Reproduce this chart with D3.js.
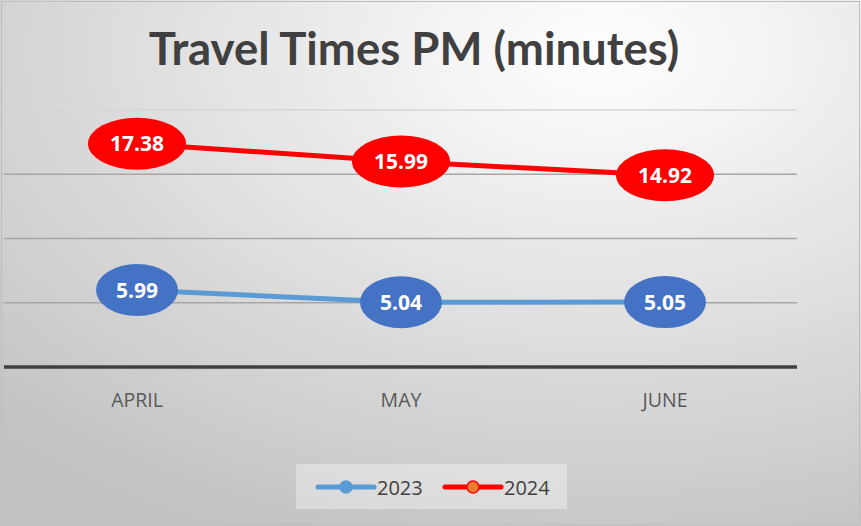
<!DOCTYPE html>
<html>
<head>
<meta charset="utf-8">
<script src="https://cdn.jsdelivr.net/npm/d3@7"></script>
<style>
  html, body { margin: 0; padding: 0; background: #fff; }
  svg { display: block; }
</style>
</head>
<body>
<svg id="chart" width="861" height="526"></svg>
<script>
// chart data
const months = ['APRIL', 'MAY', 'JUNE'];
const values2023 = [5.99, 5.04, 5.05];
const values2024 = [17.38, 15.99, 14.92];
const yTicks = [0, 5, 10, 15, 20];
const seriesNames = ['2023', '2024'];

const W = 861, H = 526;
const svg = d3.select('#chart');

// background gradient
const defs = svg.append('defs');
const grad = defs.append('radialGradient')
    .attr('id', 'bg')
    .attr('cx', '70%').attr('cy', '10%').attr('r', '100%')
    .attr('gradientUnits', 'objectBoundingBox');
grad.append('stop').attr('offset', '0%').attr('stop-color', '#ffffff');
grad.append('stop').attr('offset', '100%').attr('stop-color', '#c2c2c2');

svg.append('rect')
    .attr('x', 0).attr('y', 0).attr('width', W).attr('height', H)
    .attr('fill', 'url(#bg)');
svg.append('rect')
    .attr('x', 1.5).attr('y', 1.5).attr('width', W - 3).attr('height', H - 3)
    .attr('fill', 'none').attr('stroke', '#bdbdbd').attr('stroke-width', 1);

// title
svg.append('text')
    .attr('x', 414).attr('y', 65)
    .attr('text-anchor', 'middle')
    .style('font-family', 'Lato, "Open Sans", sans-serif')
    .style('font-weight', 'bold')
    .style('font-size', '45.5px')
    .style('fill', '#404040')
    .text('Travel Times PM (minutes)');

// scales
const x = d3.scalePoint().domain(months).range([5, 797]).padding(0.5);
const y = d3.scaleLinear().domain([0, 20]).range([367, 110]);

// gridlines
svg.append('g').selectAll('line')
    .data(yTicks.filter(d => d > 0))
    .join('line')
    .attr('x1', 4).attr('x2', 797)
    .attr('y1', d => y(d)).attr('y2', d => y(d))
    .attr('stroke', d => d === 20 ? '#d6d6d6' : '#a6a6a6')
    .attr('stroke-width', 1.5);

// baseline
svg.append('line')
    .attr('x1', 4).attr('x2', 797)
    .attr('y1', y(0)).attr('y2', y(0))
    .attr('stroke', '#404040').attr('stroke-width', 3.5);

// x labels
svg.append('g').selectAll('text')
    .data(months)
    .join('text')
    .attr('x', d => x(d)).attr('y', 407)
    .attr('text-anchor', 'middle')
    .style('font-family', '"Open Sans", sans-serif')
    .style('font-size', '19.5px')
    .style('fill', '#595959')
    .text(d => d);

const line = d3.line().x((d, i) => x(months[i])).y(d => y(d));

function drawSeries(vals, lineColor, fillColor, rx) {
    svg.append('path')
        .datum(vals)
        .attr('d', line)
        .attr('fill', 'none')
        .attr('stroke', lineColor)
        .attr('stroke-width', 5)
        .attr('stroke-linecap', 'round');

    const g = svg.append('g').selectAll('g')
        .data(vals)
        .join('g')
        .attr('transform', (d, i) => `translate(${x(months[i])},${y(d)})`);
    g.append('ellipse')
        .attr('rx', rx).attr('ry', 26)
        .attr('fill', fillColor);
    g.append('text')
        .attr('y', 7.5)
        .attr('text-anchor', 'middle')
        .style('font-family', '"Open Sans", sans-serif')
        .style('font-weight', 'bold')
        .style('font-size', '21px')
        .style('fill', '#ffffff')
        .text(d => d.toFixed(2));
}

drawSeries(values2023, '#5b9bd5', '#4472c4', 41);
drawSeries(values2024, '#ff0000', '#ff0000', 49);

// legend
const lg = svg.append('g');
lg.append('rect')
    .attr('x', 296).attr('y', 464).attr('width', 271).attr('height', 45)
    .attr('fill', '#ffffff').attr('fill-opacity', 0.35);

const legendItems = [
    { name: seriesNames[0], line: '#5b9bd5', fill: '#5b9bd5', stroke: '#5b9bd5', x0: 318 },
    { name: seriesNames[1], line: '#ff0000', fill: '#ed7d31', stroke: '#ff0000', x0: 445 }
];
const li = lg.selectAll('g').data(legendItems).join('g')
    .attr('transform', d => `translate(${d.x0},487)`);
li.append('line')
    .attr('x1', 0).attr('x2', 56).attr('y1', 0).attr('y2', 0)
    .attr('stroke', d => d.line).attr('stroke-width', 5)
    .attr('stroke-linecap', 'round');
li.append('circle')
    .attr('cx', 28).attr('r', 6)
    .attr('fill', d => d.fill).attr('stroke', d => d.stroke).attr('stroke-width', 1.5);
li.append('text')
    .attr('x', 59).attr('y', 7.5)
    .style('font-family', '"Open Sans", sans-serif')
    .style('font-size', '20px')
    .style('fill', '#404040')
    .text(d => d.name);
</script>
</body>
</html>
